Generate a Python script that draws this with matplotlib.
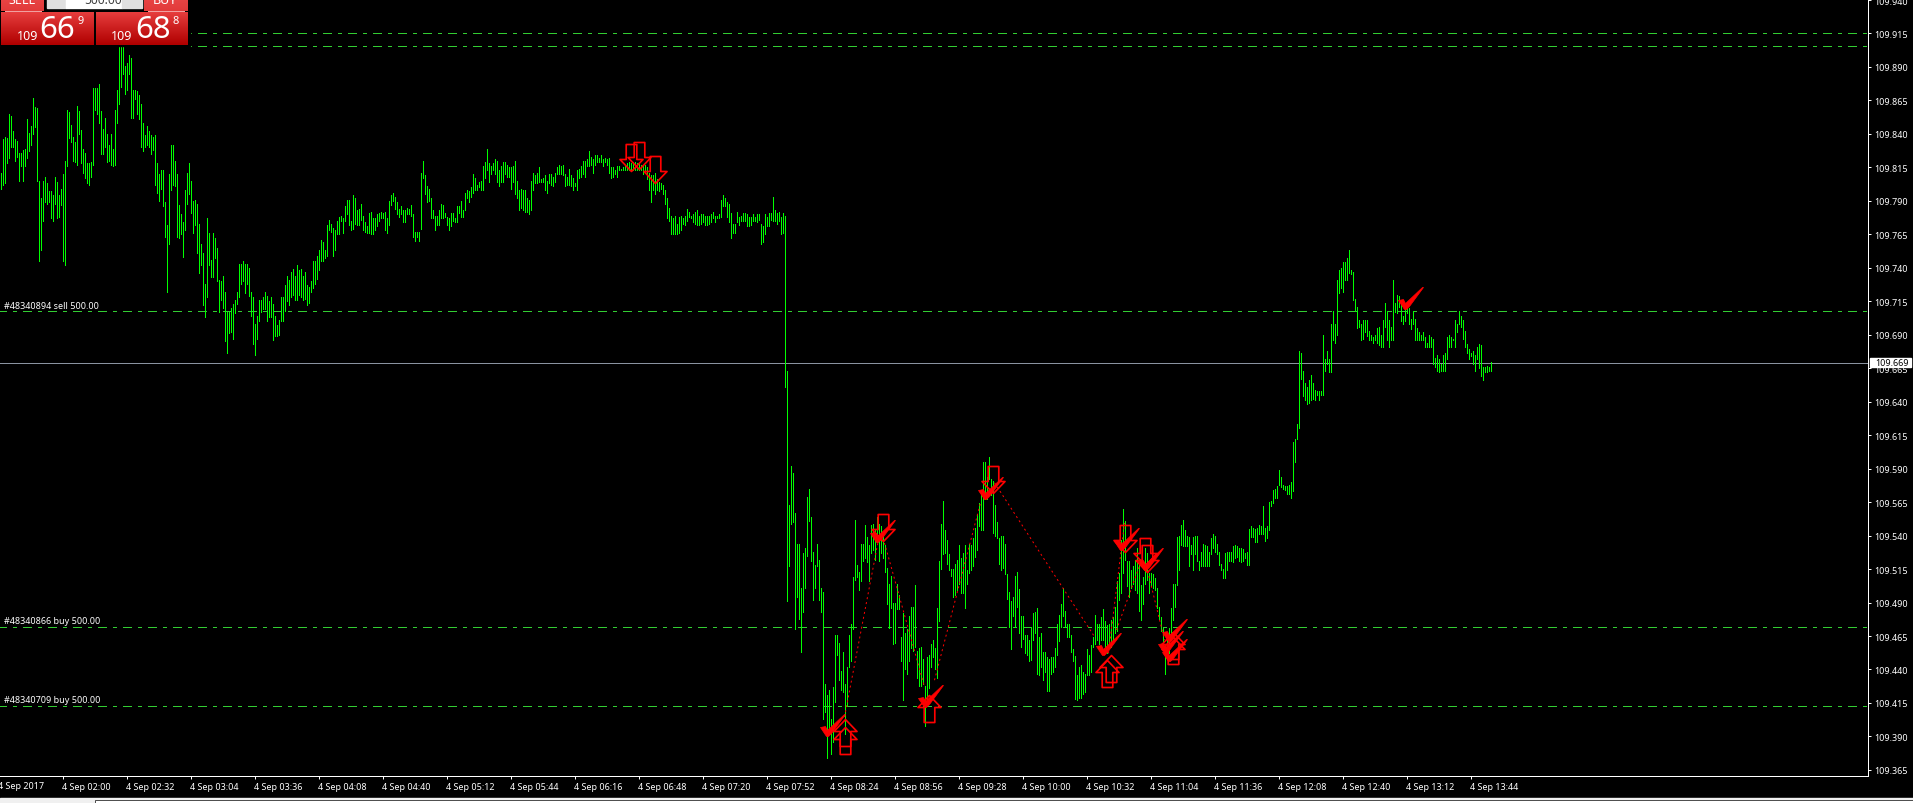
import numpy as np
import matplotlib
matplotlib.use('Agg')
import matplotlib.pyplot as plt
from matplotlib.path import Path
from matplotlib.patches import Rectangle
from matplotlib.transforms import ScaledTranslation

plt.rcParams['font.family'] = ['Noto Sans', 'DejaVu Sans']
plt.rcParams['lines.scale_dashes'] = False

# Bar highs and lows, in thousandths above 109 (one minute bars)
highs = [
    811,836,838,837,855,853,842,836,835,826, 826,828,829,851,841,846,867,860,859,805,
    792,805,808,803,797,797,794,808,804,794, 799,810,820,858,856,847,838,834,861,857,
    843,829,826,818,818,819,874,874,874,877, 857,844,852,840,832,840,829,858,873,905,
    905,905,891,893,899,897,873,873,872,869, 862,848,839,846,842,839,838,839,818,810,
    813,813,789,772,810,832,832,820,810,787, 780,774,798,811,818,805,790,791,788,773,
    758,751,728,777,766,746,766,762,755,731, 730,734,722,707,707,710,713,716,722,743,
    743,745,743,743,740,722,718,698,704,716, 716,718,722,719,715,718,713,704,697,701,
    718,718,727,734,731,737,739,734,742,738, 739,734,737,727,726,730,745,745,749,753,
    761,759,753,772,776,773,770,768,775,778, 779,777,786,791,791,775,794,792,783,784,
    788,779,774,771,781,782,777,777,780,781, 782,781,782,777,790,794,796,793,789,784,
    786,783,783,785,784,787,780,767,767,767, 811,820,809,801,799,792,783,779,779,783,
    788,787,781,778,777,781,781,777,786,786, 790,783,796,798,797,800,810,807,802,804,
    805,816,819,829,818,816,818,821,820,813, 816,819,819,817,815,815,816,820,805,798,
    799,798,798,792,791,805,811,809,811,815, 806,807,809,805,810,810,808,811,815,817,
    816,817,810,808,814,809,807,803,813,814, 816,820,820,821,827,823,821,824,824,822,
    824,821,822,821,822,815,815,813,816,816, 814,815,817,818,819,818,819,819,818,818,
    817,817,817,815,811,809,809,811,806,804, 803,802,798,792,785,779,777,779,773,778,
    779,777,779,784,782,779,780,782,783,779, 780,780,779,779,779,780,782,779,779,780,
    791,794,792,789,788,781,773,773,782,778, 779,781,781,780,778,778,780,778,780,780,
    773,771,780,778,781,781,793,783,781,782, 778,781,779,663,563,592,587,557,534,534,
    501,527,531,569,575,554,528,518,534,522, 501,498,429,421,425,403,427,466,466,460,
    439,453,429,442,466,474,509,552,518,513, 534,534,548,539,533,548,549,545,554,549,
    547,541,533,516,504,510,490,490,504,496, 464,482,467,470,480,487,487,503,454,456,
    457,448,428,449,451,459,462,456,486,521, 549,566,544,537,526,515,515,519,522,533,
    523,527,533,514,534,533,538,546,556,564, 572,595,595,584,599,582,581,563,550,538,
    540,540,534,511,498,491,494,510,513,500, 480,480,466,466,462,472,482,483,486,464,
    467,453,453,449,448,449,449,456,474,481, 489,501,484,474,474,466,455,450,436,442,
    443,438,437,455,451,458,464,481,474,474, 479,485,476,473,474,477,479,487,506,512,
    537,560,551,521,521,514,517,522,531,519, 503,509,531,527,512,512,511,508,501,487,
    479,471,459,462,471,486,504,504,539,540, 548,552,544,540,539,533,539,540,540,521,
    528,534,533,532,528,538,541,540,534,528, 519,515,527,528,528,528,532,533,532,531,
    531,530,527,528,545,547,546,545,546,548, 547,562,546,547,565,566,574,575,577,589,
    584,578,577,577,578,580,610,612,623,678, 676,663,654,651,656,660,654,649,648,648,
    648,690,672,678,672,698,708,698,731,738, 740,744,744,747,753,738,737,717,711,701,
    698,701,701,701,693,690,688,690,695,696, 690,701,714,708,701,696,731,714,720,719,
    716,704,712,711,710,702,708,702,695,692, 690,692,688,684,690,688,687,673,675,672,
    668,675,676,688,690,688,687,701,698,708, 704,701,693,683,679,676,678,675,681,683,
    682,666,666,667,666,670,
]
lows = [
    799,802,803,818,822,830,830,820,823,805, 816,805,816,822,827,832,840,845,805,745,
    753,775,789,788,789,777,775,788,777,778, 787,745,742,816,837,834,820,819,817,840,
    818,811,807,803,802,808,817,858,855,848, 825,825,830,819,820,817,816,817,848,862,
    875,885,870,873,885,852,852,866,855,851, 830,827,830,832,830,825,828,802,796,790,
    799,786,763,722,758,798,802,801,763,762, 765,748,768,788,795,781,766,772,751,736,
    742,712,703,718,742,733,733,747,730,707, 716,710,685,676,691,692,687,706,713,718,
    728,730,721,728,719,704,683,675,687,700, 707,709,709,700,703,703,686,689,689,690,
    700,700,708,715,712,718,720,716,716,720, 718,716,717,712,714,722,725,728,732,738,
    745,745,747,749,768,767,749,753,765,765, 775,766,775,780,772,768,769,773,772,772,
    776,768,767,766,766,765,765,768,771,775, 777,777,768,766,772,787,790,784,780,778,
    780,774,774,780,780,779,763,760,763,760, 769,807,795,789,790,777,777,768,772,772,
    777,777,778,772,768,771,775,774,774,781, 778,778,783,792,789,793,796,798,798,800,
    798,798,807,813,804,810,813,810,804,801, 804,804,810,808,808,799,804,795,792,783,
    785,783,782,782,780,783,798,803,803,804, 804,804,798,796,803,802,801,804,810,810,
    810,809,801,802,802,801,798,801,798,807, 808,810,808,816,816,817,811,817,819,819,
    819,816,819,817,811,807,808,810,808,813, 813,813,813,813,813,813,813,813,813,813,
    813,810,811,806,798,789,798,795,798,797, 799,795,788,777,775,765,765,765,765,766,
    768,773,772,775,778,777,774,773,772,772, 773,774,772,772,773,774,777,774,777,777,
    778,786,786,778,774,762,766,766,774,772, 775,775,775,771,771,772,775,775,774,776,
    758,759,765,771,771,776,775,775,773,775, 765,766,651,491,517,549,550,470,494,478,
    453,483,501,525,551,521,492,501,517,492, 483,403,408,374,394,377,386,416,451,432,
    425,423,392,413,442,446,470,507,509,499, 506,521,523,520,506,527,529,522,535,521,
    527,523,513,489,471,486,459,460,485,485, 446,417,440,437,446,456,454,457,434,428,
    428,429,398,417,426,442,449,440,434,476, 515,526,527,519,514,510,494,496,499,504,
    497,497,486,504,512,514,517,524,529,547, 544,544,567,567,582,570,542,540,538,519,
    514,516,511,493,472,455,480,472,487,467, 457,463,452,451,446,447,462,467,437,436,
    442,432,438,424,424,437,438,442,451,461, 472,480,472,464,464,453,446,418,417,419,
    419,422,423,436,436,438,457,459,462,459, 462,462,457,452,457,457,462,467,469,492,
    497,512,522,502,494,501,504,499,497,484, 477,489,504,507,497,502,501,499,486,478,
    469,457,437,449,452,462,477,487,503,514, 533,532,532,532,517,526,514,526,521,514,
    517,517,517,517,517,526,531,528,526,518, 514,508,508,514,521,521,520,523,524,521,
    520,521,523,518,518,539,539,535,535,541, 541,541,536,538,544,562,564,568,568,578,
    576,575,574,571,571,568,573,595,612,620, 657,644,641,638,639,641,642,641,645,641,
    645,645,663,668,662,662,686,684,690,721, 725,722,731,731,736,735,716,708,695,696,
    686,687,692,689,686,686,684,686,684,682, 681,681,696,686,681,686,686,707,706,711,
    700,698,700,706,698,694,698,686,686,686, 686,686,681,681,681,681,668,666,663,662,
    663,663,663,672,681,681,686,681,692,698, 696,687,681,676,672,674,668,663,672,665,
    659,656,662,662,663,663,
]

# Order levels
level_prices = [109.915, 109.9053, 109.7075, 109.472, 109.413]
bid = 109.669
order_labels = ['#48340894 sell 500.00', '#48340866 buy 500.00', '#48340709 buy 500.00']
order_label_prices = [109.7075, 109.472, 109.413]

# Trade markers as (bar, price)
sell_arrows = [(315, 109.812), (319, 109.814), (327, 109.803), (441, 109.536), (496, 109.572),
               (562, 109.528), (572, 109.518), (573, 109.513)]
buy_arrows = [(422, 109.403), (422, 109.397), (464, 109.421), (553, 109.447), (555, 109.451),
              (586, 109.468), (586, 109.464)]
checks = [(413, 109.390), (438, 109.535), (462, 109.412), (492, 109.567), (551, 109.451),
          (560, 109.529), (572, 109.514), (584, 109.461), (582, 109.452), (584, 109.446),
          (702, 109.709)]
trade_lines = [((422, 109.4045), (439, 109.537)), ((442, 109.5345), (462, 109.427)),
               ((467, 109.432), (490, 109.5645)), ((497, 109.5795), (547, 109.4645)),
               ((554, 109.452), (562, 109.5495)), ((558, 109.4695), (570, 109.5195)),
               ((573, 109.517), (582, 109.462))]

# Axis labels
y_ticks = [109.365 + 0.025 * k for k in range(24)]
x_tick_bars = [31 + 32 * k for k in range(23)]
x_tick_labels = ['4 Sep 02:00', '4 Sep 02:32', '4 Sep 03:04', '4 Sep 03:36', '4 Sep 04:08', '4 Sep 04:40',
                 '4 Sep 05:12', '4 Sep 05:44', '4 Sep 06:16', '4 Sep 06:48', '4 Sep 07:20', '4 Sep 07:52',
                 '4 Sep 08:24', '4 Sep 08:56', '4 Sep 09:28', '4 Sep 10:00', '4 Sep 10:32', '4 Sep 11:04',
                 '4 Sep 11:36', '4 Sep 12:08', '4 Sep 12:40', '4 Sep 13:12', '4 Sep 13:44']

PX = 0.72  # one pixel in points at dpi 100
small = 9 * PX

fig = plt.figure(figsize=(19.13, 8.04), dpi=100, facecolor='black')
ax = fig.add_axes([0, 1 - 777 / 804, 1868 / 1913, 777 / 804], facecolor='black')
ax.set_xlim(-0.25, 933.75)
ax.set_ylim(109.36045, 109.94075)

# Level lines
dash = (2 * PX, (9 * PX, 6 * PX, 3 * PX, 6 * PX))
for p in level_prices:
    ax.plot([-0.25, 932.5], [p, p], color='#32cd32', lw=PX, linestyle=dash, antialiased=False, zorder=1)
ax.axhline(bid, color='#8a93a0', lw=PX, antialiased=False, zorder=1.5)

# Price bars
bars = np.arange(len(highs))
ax.vlines(bars, 109 + np.array(lows) / 1000, 109 + np.array(highs) / 1000,
          colors='#00ff00', linewidth=PX, antialiased=False, zorder=2)

# Dotted trade lines
for a, b in trade_lines:
    ax.plot([a[0], b[0]], [a[1], b[1]], color='#ff0000', lw=PX, linestyle=(0, (2 * PX, 3 * PX)), zorder=3)

# Arrow and tick marker shapes, in pixels with the tip at 0,0
down_verts = [(0, 0), (11.5, 12), (5.3, 12), (5.3, 27), (-5.3, 27), (-5.3, 12), (-11.5, 12), (0, 0)]
up_verts = [(x, -y) for x, y in down_verts]
check_verts = [(-7, 9), (-2, 10), (0, 6), (17, 22), (18, 22), (4, 3), (1, 0), (-1, 0), (-7, 9)]
down_path = Path(down_verts, closed=True)
up_path = Path(up_verts, closed=True)
check_path = Path(check_verts, closed=True)

for (pts, path) in [(sell_arrows, down_path), (buy_arrows, up_path)]:
    ax.plot([p[0] for p in pts], [p[1] for p in pts], linestyle='none', marker=path, markersize=2 * 27 * PX,
            markerfacecolor='none', markeredgecolor='#ff0000', markeredgewidth=1.7 * PX, zorder=4)
ax.plot([p[0] for p in checks], [p[1] for p in checks], linestyle='none', marker=check_path, markersize=2 * 22 * PX,
        markerfacecolor='#ff0000', markeredgecolor='#ff0000', markeredgewidth=0.5, zorder=5)

# Order labels
for text, p in zip(order_labels, order_label_prices):
    ax.annotate(text, (0, p), xytext=(4 * PX, 1.5 * PX), textcoords='offset points', color='white',
                fontsize=small, va='bottom', ha='left', zorder=6)

# Axes
for side in ['top', 'left']:
    ax.spines[side].set_visible(False)
for side in ['right', 'bottom']:
    ax.spines[side].set_color('white')
    ax.spines[side].set_linewidth(PX)
ax.yaxis.tick_right()
ax.set_yticks(y_ticks)
ax.set_yticklabels(['%.3f' % v for v in y_ticks])
ax.set_xticks(x_tick_bars)
ax.set_xticklabels(x_tick_labels, ha='left')
ax.tick_params(axis='both', colors='white', length=3 * PX, width=PX, labelsize=small)
ax.tick_params(axis='y', pad=3 * PX)
ax.tick_params(axis='x', pad=3 * PX)
shift = ScaledTranslation(-1 / 100, 0, fig.dpi_scale_trans)
for label in ax.get_xticklabels():
    label.set_transform(label.get_transform() + shift)

# Overlay in pixel coordinates: trade panel, first date, price tag, bottom strip
ov = fig.add_axes([0, 0, 1, 1], facecolor='none')
ov.set_xlim(0, 1913)
ov.set_ylim(804, 0)
ov.axis('off')


def gradient(x0, x1, y0, y1, top, bottom):
    c0 = np.array(matplotlib.colors.to_rgb(top))
    c1 = np.array(matplotlib.colors.to_rgb(bottom))
    t = np.linspace(0, 1, 32)[:, None, None]
    img = c0[None, None, :] * (1 - t) + c1[None, None, :] * t
    ov.imshow(img, extent=(x0, x1, y1, y0), aspect='auto', zorder=10, interpolation='bilinear')


ov.add_patch(Rectangle((0, 0), 190, 47, color='black', zorder=9))
gradient(1, 44, 0, 12, '#e84545', '#e23a3a')
gradient(144, 188, 0, 12, '#e84545', '#e23a3a')
gradient(1, 94, 13, 46, '#e63c3c', '#b00000')
gradient(96, 188, 13, 46, '#e63c3c', '#b00000')
ov.add_patch(Rectangle((47, 0), 19, 9, color='#e0e0e0', zorder=10))
ov.add_patch(Rectangle((66, 0), 56, 9, color='white', zorder=10))
ov.add_patch(Rectangle((122, 0), 20, 9, color='#e0e0e0', zorder=10))
ov.plot([5, 41], [11.5, 11.5], color='#f0a0a0', lw=PX, zorder=11)
ov.plot([148, 184], [11.5, 11.5], color='#f0a0a0', lw=PX, zorder=11)
ov.text(22, 6.5, 'SELL', color='white', fontsize=12.5 * PX, ha='center', va='bottom', zorder=11)
ov.text(165, 6.5, 'BUY', color='white', fontsize=12.5 * PX, ha='center', va='bottom', zorder=11)
ov.text(103, 7, '500.00', color='#404040', fontsize=12 * PX, ha='center', va='bottom', zorder=11)
ov.text(56, 4, '+', color='#404040', fontsize=10 * PX, ha='center', va='bottom', zorder=11)
ov.text(132, 4, '\u2212', color='#404040', fontsize=10 * PX, ha='center', va='bottom', zorder=11)
for x_small, x_big, x_sup, big, sup in [(28, 57, 81, '66', '9'), (122, 153, 176, '68', '8')]:
    ov.text(x_small, 36, '109', color='white', fontsize=12.5 * PX, ha='center', va='center', zorder=11)
    ov.text(x_big, 30, big, color='white', fontsize=31 * PX, ha='center', va='center', zorder=11)
    ov.text(x_sup, 21, sup, color='white', fontsize=11 * PX, ha='center', va='center', zorder=11)

ov.text(-2, 786.5, '4 Sep 2017', color='white', fontsize=small, ha='left', va='center', zorder=11)
ov.add_patch(Rectangle((1870, 358.5), 41, 9.5, color='white', zorder=10))
ov.text(1875, 363.5, '109.669', color='black', fontsize=small, ha='left', va='center', zorder=11)

ov.add_patch(Rectangle((0, 798.5), 1913, 5.5, color='#f0f0f0', zorder=10))
ov.add_patch(Rectangle((95, 800.5), 1818, 3.5, facecolor='white', edgecolor='#505050', lw=PX, zorder=11))
ov.set_xlim(0, 1913)
ov.set_ylim(804, 0)

fig.savefig('out.png', dpi=100, facecolor='black')
